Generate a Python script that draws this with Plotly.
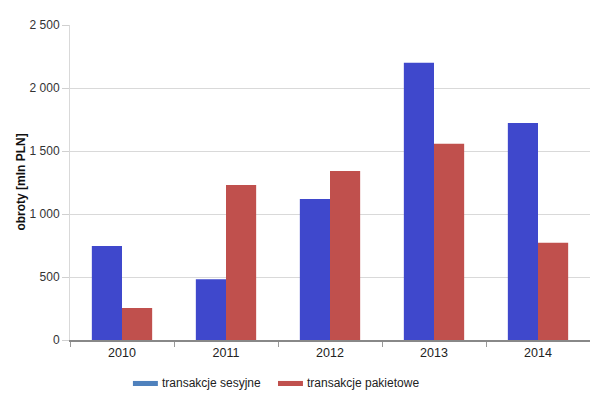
import plotly.graph_objects as go

years = ["2010", "2011", "2012", "2013", "2014"]
sesyjne = [746, 482, 1120, 2200, 1723]
pakietowe = [254, 1231, 1342, 1557, 771]
series_names = ["transakcje sesyjne", "transakcje pakietowe"]
bar_colors = ["#3F48CC", "#C0504D"]
legend_colors = ["#4F81BD", "#C0504D"]
y_ticks = [0, 500, 1000, 1500, 2000, 2500]
y_title = "obroty [mln PLN]"

FONT = "Liberation Sans"

fig = go.Figure()
for name, vals, col in zip(series_names, [sesyjne, pakietowe], bar_colors):
    fig.add_trace(go.Bar(x=years, y=vals, name=name, marker=dict(color=col, line=dict(width=0)),
                         showlegend=False))

# manual legend (wide swatches as in reference)
legend_x = [0.121, 0.400]
for lx, name, col in zip(legend_x, series_names, legend_colors):
    fig.add_shape(type="rect", xref="paper", yref="paper",
                  x0=lx, x1=lx + 0.048, y0=-0.146, y1=-0.130,
                  fillcolor=col, line=dict(width=0))
    fig.add_annotation(x=lx + 0.052, y=-0.138, xref="paper", yref="paper",
                       text=name, showarrow=False, xanchor="left", yanchor="middle",
                       font=dict(family=FONT, size=12, color="#222"))

# y-axis title placed as a rotated annotation
fig.add_annotation(x=-0.096, y=0.5, xref="paper", yref="paper", text="<b>" + y_title + "</b>",
                   textangle=-90, showarrow=False, xanchor="center", yanchor="middle",
                   font=dict(family=FONT, size=12, color="#111"))

# page body has an 8px margin, so the figure is sized/offset to compensate
fig.update_layout(
    width=590, height=389,
    margin=dict(l=62, r=8, t=17, b=57, autoexpand=False),
    paper_bgcolor="white", plot_bgcolor="white",
    barmode="group", bargap=0.42, bargroupgap=0,
    separators=", ",
    font=dict(family=FONT, size=12, color="#222"),
    xaxis=dict(type="category", tickson="boundaries", ticks="outside", ticklen=5,
               tickcolor="#999", showline=True, linecolor="#888", linewidth=1.5,
               showgrid=False, tickfont=dict(size=12.5), automargin=False),
    yaxis=dict(range=[0, 2500], tickvals=y_ticks, tickformat=",d",
               showgrid=True, gridcolor="#D9D9D9", gridwidth=1,
               showline=True, linecolor="#D9D9D9", ticks="outside", ticklen=7,
               tickcolor="#D0D0D0", zeroline=False, automargin=False,
               tickfont=dict(size=12, color="#333")),
)

fig.write_html("out.html")
